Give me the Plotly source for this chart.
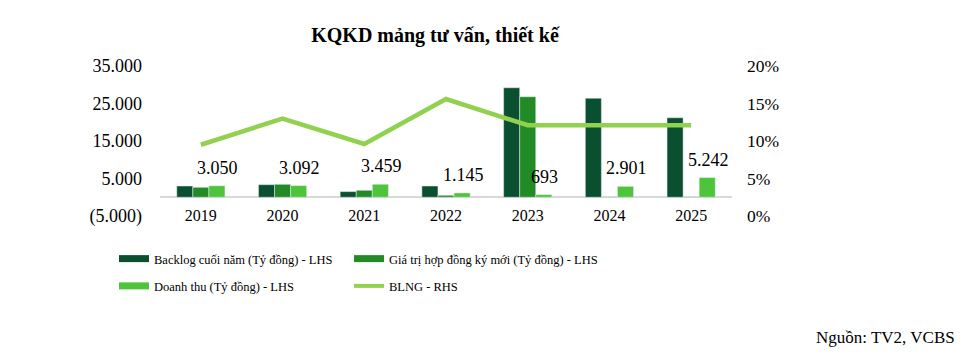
import plotly.graph_objects as go

years = ["2019", "2020", "2021", "2022", "2023", "2024", "2025"]
backlog = [3000, 3350, 1500, 3000, 29200, 26400, 21200]
new_contracts = [2650, 3450, 1850, 520, 26800, 100, 100]
revenue = [3050, 3092, 3459, 1145, 693, 2901, 5242]
blng = [0.095, 0.130, 0.096, 0.156, 0.121, 0.121, 0.121]

left_tickvals = [35000, 25000, 15000, 5000, -5000]
left_ticktext = ["35.000", "25.000", "15.000", "5.000", "(5.000)"]
right_tickvals = [0.20, 0.15, 0.10, 0.05, 0.0]
right_ticktext = ["20%", "15%", "10%", "5%", "0%"]

names = ["Backlog cuối năm (Tỷ đồng) - LHS",
         "Giá trị hợp đồng ký mới (Tỷ đồng) - LHS",
         "Doanh thu (Tỷ đồng) - LHS",
         "BLNG - RHS"]
title_text = "KQKD mảng tư vấn, thiết kế"
source_text = "Nguồn: TV2, VCBS"

C_DARK = "#0A5030"
C_MID = "#238B25"
C_LIGHT = "#4DC43A"
C_LINE = "#92D050"
FONT = "Liberation Serif, Times New Roman, serif"

# page body has an 8px margin; the figure is sized so that it fills the window exactly
OFF = 8
W, H = 966 - OFF, 360 - OFF
PL, PT, PW, PH = 160, 66, 572, 150   # plot area in window pixels


def px_x(x):  # window x -> paper x (relative to plot area)
    return (x - PL) / PW


def px_y(y):  # window y -> paper y
    return (PT + PH - y) / PH


fig = go.Figure()
fig.add_trace(go.Bar(x=years, y=backlog, marker_color=C_DARK, showlegend=False, yaxis="y"))
fig.add_trace(go.Bar(x=years, y=new_contracts, marker_color=C_MID, showlegend=False, yaxis="y"))
fig.add_trace(go.Bar(x=years, y=revenue, marker_color=C_LIGHT, showlegend=False, yaxis="y"))
fig.add_trace(go.Scatter(x=years, y=blng, mode="lines", line=dict(color=C_LINE, width=4.5),
                         showlegend=False, yaxis="y2"))

# legend entries (wide flat swatches like the reference)
leg_specs = [(names[0], C_DARK, 7, "legend"), (names[2], C_LIGHT, 7, "legend"),
             (names[1], C_MID, 7, "legend2"), (names[3], C_LINE, 4, "legend2")]
for i, (nm, col, w, lg) in enumerate(leg_specs):
    fig.add_trace(go.Scatter(x=[years[0]], y=[None], mode="lines", name=nm,
                             line=dict(color=col, width=w), legend=lg,
                             legendgroup="g%d" % i, showlegend=True, hoverinfo="skip"))

# data labels for revenue (placed at category index, shifted onto the third bar)
for i, v in enumerate(revenue):
    fig.add_annotation(x=i, y=v, xref="x", yref="y", text=f"{v:,}".replace(",", "."),
                       showarrow=False, xshift=17, yshift=18, yanchor="middle",
                       font=dict(family=FONT, size=18, color="#000"))

fig.add_annotation(x=px_x(957), y=px_y(337), xref="paper", yref="paper",
                   text=source_text, showarrow=False, xanchor="right", yanchor="middle",
                   font=dict(family=FONT, size=17, color="#000"))

fig.update_layout(
    width=W, height=H,
    margin=dict(l=PL - OFF, r=W - (PL - OFF) - PW, t=PT - OFF, b=H - (PT - OFF) - PH,
                autoexpand=False),
    paper_bgcolor="white", plot_bgcolor="white",
    font=dict(family=FONT, size=16, color="#000"),
    title=dict(text="<b>" + title_text + "</b>", x=(435 - OFF) / W, xanchor="center",
               y=1 - (35 - OFF) / H, yanchor="middle",
               font=dict(family=FONT, size=20, color="#000")),
    barmode="group", bargap=0.41, bargroupgap=0,
    xaxis=dict(type="category", categoryorder="array", categoryarray=years,
               range=[-0.5, 6.5], showgrid=False, showline=False, zeroline=False,
               ticks="", tickfont=dict(size=16), ticklabelstandoff=-12),
    yaxis=dict(range=[-5000, 35000], tickvals=left_tickvals, ticktext=left_ticktext,
               showgrid=False, zeroline=True, zerolinecolor="#D9D9D9", zerolinewidth=2,
               showline=False, ticks="", ticklabelstandoff=17, tickfont=dict(size=18)),
    yaxis2=dict(range=[0, 0.20], tickvals=right_tickvals, ticktext=right_ticktext,
                overlaying="y", side="right", showgrid=False, zeroline=False,
                showline=False, ticks="", ticklabelstandoff=14, tickfont=dict(size=17.5)),
    legend=dict(orientation="v", x=px_x(114), xanchor="left",
                y=px_y(244), yanchor="top", tracegroupgap=8,
                font=dict(family=FONT, size=12.5), bgcolor="rgba(0,0,0,0)"),
    legend2=dict(orientation="v", x=px_x(349), xanchor="left",
                 y=px_y(244), yanchor="top", tracegroupgap=8,
                 font=dict(family=FONT, size=12.5), bgcolor="rgba(0,0,0,0)"),
)

fig.write_html("out.html")
